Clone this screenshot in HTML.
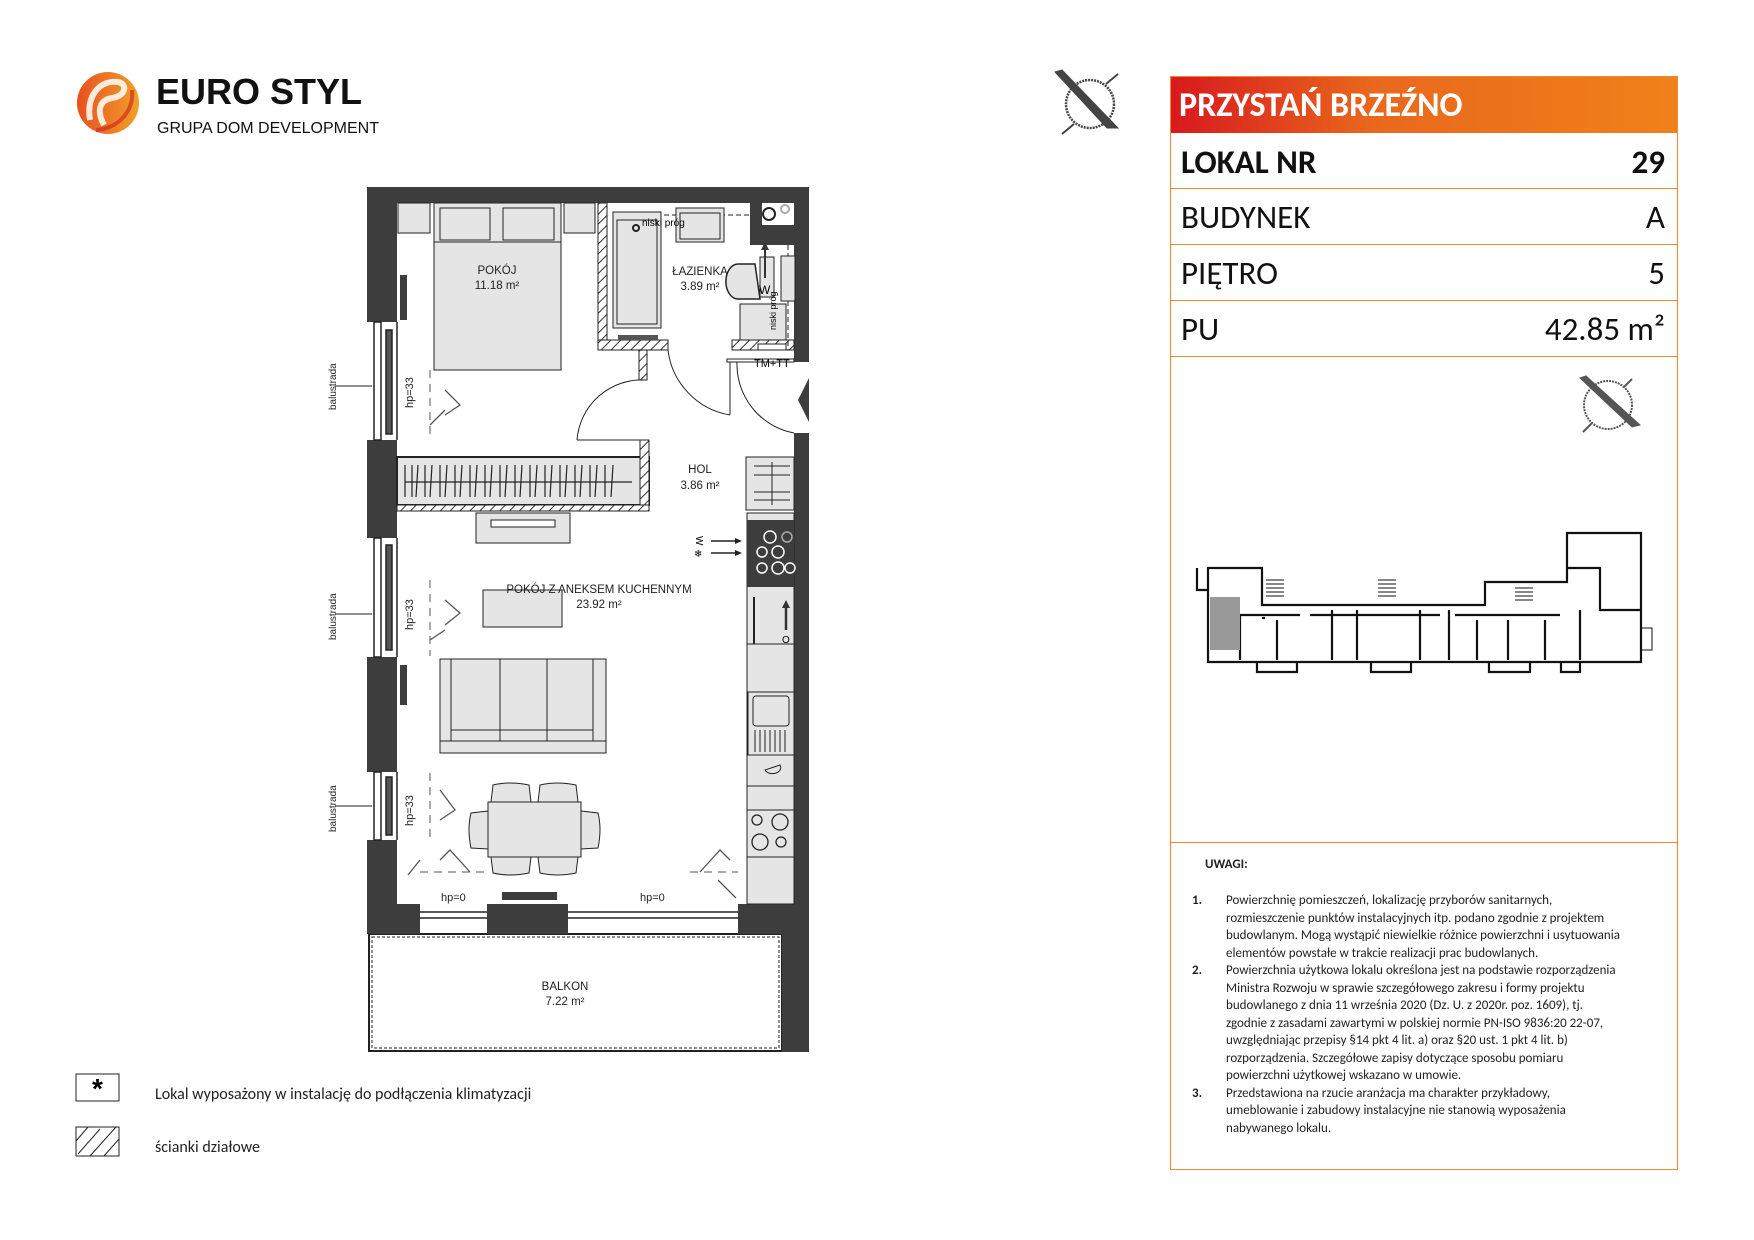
<!DOCTYPE html>
<html><head><meta charset="utf-8"><style>
html,body{margin:0;padding:0;background:#fff}
body{width:1754px;height:1240px;position:relative;overflow:hidden;font-family:"Liberation Sans",sans-serif}
.c{font-family:"Carlito","Liberation Sans","DejaVu Sans",sans-serif}
#panel{position:absolute;left:1170px;top:76px;width:506px;height:1092px;border:1px solid #ee8a2e}
.row{position:absolute;left:0;width:506px;border-bottom:1px solid #ee8a2e;font-size:33px;color:#111}
.row .l{position:absolute;left:10px}
.row .r{position:absolute;right:12px}
.notes{position:absolute;font-size:13px;line-height:17.5px;color:#222}
</style></head><body>
<svg width="1754" height="1240" viewBox="0 0 1754 1240" style="position:absolute;left:0;top:0">
<defs>
<linearGradient id="lg" x1="0" x2="1"><stop offset="0" stop-color="#e8501f"/><stop offset="1" stop-color="#f2a02a"/></linearGradient>
<linearGradient id="hg" x1="0" x2="1"><stop offset="0" stop-color="#d8181e"/><stop offset="0.4" stop-color="#e9681d"/><stop offset="1" stop-color="#f08119"/></linearGradient>
<pattern id="hat" width="7" height="7" patternUnits="userSpaceOnUse" patternTransform="rotate(45)"><rect width="7" height="7" fill="#fff"/><line x1="0" y1="0" x2="0" y2="7" stroke="#333" stroke-width="2"/></pattern>
</defs>
<!-- logo -->
<circle cx="108" cy="103" r="31" fill="url(#lg)"/>
<path d="M90 120 C86 95 100 80 118 82 C128 84 126 96 112 98 C100 100 96 110 104 125" fill="none" stroke="#fff" stroke-width="6" opacity="0.85"/>
<path d="M96 130 C120 128 134 110 132 90" fill="none" stroke="#c9201c" stroke-width="4" opacity="0.6"/>
<text x="156" y="104" font-family="Liberation Sans" font-weight="bold" font-size="36" fill="#111" letter-spacing="0">EURO STYL</text>
<text x="157" y="133" font-family="Liberation Sans" font-size="16" fill="#111">GRUPA DOM DEVELOPMENT</text>
<!-- big compass -->
<g stroke="#444" fill="none">
<circle cx="1090" cy="104" r="24" stroke-width="2.5" stroke-dasharray="2 1"/>
<line x1="1074" y1="124" x2="1062" y2="134" stroke-width="2"/><line x1="1106" y1="84" x2="1118" y2="74" stroke-width="2"/>
<polygon points="1055,72 1062,70 1118,128 1107,128" fill="#444"/>
</g>
<!-- plan -->
<g>
<rect x="369" y="934" width="413" height="117" fill="#fff" stroke="#222" stroke-width="2"/>
<rect x="372" y="937" width="407" height="111" fill="none" stroke="#222" stroke-width="1" stroke-dasharray="3 2"/>
<rect x="782" y="904" width="27" height="148" fill="#3d3d3d"/>
<rect x="367" y="187" width="442" height="16" fill="#3d3d3d"/>
<rect x="367" y="187" width="30" height="135" fill="#3d3d3d"/>
<rect x="367" y="440" width="30" height="98" fill="#3d3d3d"/>
<rect x="367" y="657" width="30" height="115" fill="#3d3d3d"/>
<rect x="367" y="840" width="30" height="94" fill="#3d3d3d"/>
<rect x="794" y="187" width="15" height="175" fill="#3d3d3d"/>
<rect x="794" y="433" width="15" height="480" fill="#3d3d3d"/>
<polygon points="809,378 798,400 809,422" fill="#3d3d3d"/>
<rect x="367" y="904" width="53" height="30" fill="#3d3d3d"/>
<rect x="487" y="904" width="81" height="30" fill="#3d3d3d"/>
<rect x="738" y="904" width="71" height="30" fill="#3d3d3d"/>
<rect x="502" y="892" width="55" height="8" fill="#3d3d3d"/>
<g fill="none" stroke="#222" stroke-width="1.5">
<rect x="374" y="322" width="7" height="118"/><rect x="386" y="330" width="6" height="104" fill="#555"/><line x1="397" y1="322" x2="397" y2="440"/>
<rect x="374" y="538" width="7" height="119"/><rect x="386" y="545" width="6" height="105" fill="#555"/><line x1="397" y1="538" x2="397" y2="657"/>
<rect x="374" y="772" width="7" height="68"/><rect x="386" y="777" width="6" height="58" fill="#555"/><line x1="397" y1="772" x2="397" y2="840"/>
<line x1="420" y1="912" x2="487" y2="912"/><line x1="420" y1="918" x2="487" y2="918"/>
<line x1="568" y1="912" x2="738" y2="912"/><line x1="568" y1="918" x2="738" y2="918"/>
</g>
<g stroke="#222" stroke-width="1">
<line x1="335" y1="386" x2="372" y2="386"/><line x1="335" y1="614" x2="372" y2="614"/><line x1="335" y1="806" x2="372" y2="806"/>
</g>
<g font-size="10" fill="#222">
<text transform="translate(336,410) rotate(-90)">balustrada</text>
<text transform="translate(336,640) rotate(-90)">balustrada</text>
<text transform="translate(336,832) rotate(-90)">balustrada</text>
<text transform="translate(413,408) rotate(-90)" font-size="11">hp=33</text>
<text transform="translate(413,630) rotate(-90)" font-size="11">hp=33</text>
<text transform="translate(413,826) rotate(-90)" font-size="11">hp=33</text>
<text x="441" y="901" font-size="11">hp=0</text>
<text x="640" y="901" font-size="11">hp=0</text>
</g>
<g fill="none" stroke="#555" stroke-width="1" stroke-dasharray="8 6">
<line x1="430" y1="370" x2="430" y2="440"/><line x1="430" y1="580" x2="430" y2="656"/><line x1="430" y1="773" x2="430" y2="840"/>
<line x1="420" y1="872" x2="487" y2="872"/><line x1="690" y1="872" x2="738" y2="872"/>
</g>
<g fill="none" stroke="#555" stroke-width="1.3">
<path d="M445 390 L460 405 L445 415"/><path d="M430 425 L445 410"/><path d="M445 600 L460 613 L445 625"/><path d="M430 640 L445 630"/>
<path d="M440 790 L455 810 L440 820"/><path d="M440 860 L450 850 L470 872"/><path d="M700 872 L720 850 L730 860"/>
<path d="M408 875 L420 860"/><path d="M718 880 L736 898"/>
</g>
<rect x="598" y="203" width="9" height="147" fill="url(#hat)" stroke="#222"/>
<rect x="598" y="340" width="70" height="10" fill="url(#hat)" stroke="#222"/>
<rect x="639" y="350" width="8" height="30" fill="url(#hat)" stroke="#222"/>
<rect x="732" y="340" width="62" height="10" fill="url(#hat)" stroke="#222"/>
<rect x="750" y="203" width="44" height="42" fill="#3d3d3d"/><rect x="762" y="203" width="32" height="22" fill="#fff"/>
<circle cx="769" cy="214" r="6" fill="none" stroke="#222" stroke-width="2"/><circle cx="785" cy="209" r="4" fill="none" stroke="#aaa" stroke-width="2"/>
<line x1="640" y1="215" x2="750" y2="215" stroke="#222" stroke-dasharray="5 3"/>
<line x1="788" y1="245" x2="788" y2="350" stroke="#222" stroke-dasharray="5 3"/>
<rect x="613" y="212" width="48" height="116" fill="#e5e5e5" stroke="#222"/><rect x="617" y="220" width="40" height="104" fill="none" stroke="#222"/>
<circle cx="636" cy="228" r="3" fill="none" stroke="#222" stroke-width="2"/>
<rect x="618" y="335" width="40" height="5" fill="#555"/>
<rect x="676" y="208" width="48" height="34" fill="#e5e5e5" stroke="#222"/><rect x="680" y="213" width="40" height="26" fill="none" stroke="#222"/>
<path d="M755 264 L738 264 A9 13 0 0 0 738 299 L760 299 Z" fill="#e5e5e5" stroke="#222" stroke-width="1.5"/>
<rect x="760" y="257" width="14" height="40" fill="#e5e5e5" stroke="#222"/><rect x="781" y="256" width="14" height="45" fill="#e5e5e5" stroke="#222"/>
<line x1="765" y1="278" x2="765" y2="248" stroke="#333" stroke-width="2"/><polygon points="761,250 769,250 765,242" fill="#333"/>
<text x="759" y="294" font-size="12">W</text>
<rect x="740" y="304" width="46" height="36" fill="#e5e5e5" stroke="#222"/>
<rect x="758" y="344" width="28" height="6" fill="#fff" stroke="#222"/>
<text x="642" y="226" font-size="10">niski próg</text>
<text transform="translate(776,330) rotate(-90)" font-size="9">niski próg</text>
<text x="754" y="367" font-size="11">TM+TT</text>
<rect x="727" y="359" width="67" height="3" fill="none" stroke="#222"/>
<g fill="none" stroke="#222" stroke-width="1">
<path d="M668 350 A75 75 0 0 0 730 415"/><line x1="730" y1="362" x2="730" y2="415"/>
<path d="M737 362 A70 70 0 0 0 794 433"/>
<path d="M645 380 A65 65 0 0 0 577 440"/><line x1="577" y1="440" x2="645" y2="440"/>
</g>
<rect x="397" y="457" width="252" height="48" fill="#e5e5e5" stroke="#222" stroke-width="2"/>
<rect x="640" y="440" width="9" height="65" fill="url(#hat)" stroke="#222"/>
<rect x="397" y="505" width="252" height="6" fill="url(#hat)" stroke="#222"/>
<g stroke="#222" stroke-width="1.2">
<line x1="405" y1="482" x2="632" y2="482"/>
<path d="M405 465v32M412 465v32M418 465l-2 32M425 465v32M432 465l-2 32M440 465v32M447 465l-2 32M455 465v32M462 465l-2 32M470 465v32M477 465l-2 32M485 465v32M492 465l-2 32M500 465v32M507 465l-2 32M515 465v32M522 465l-2 32M530 465v32M537 465l-2 32M545 465v32M552 465l-2 32M560 465v32M567 465l-2 32M575 465v32M582 465l-2 32M590 465v32M597 465l-2 32M605 465v32M613 465l-2 32"/>
</g>
<rect x="398" y="203" width="32" height="30" fill="#e5e5e5" stroke="#222"/><rect x="564" y="203" width="31" height="30" fill="#e5e5e5" stroke="#222"/>
<rect x="434" y="203" width="127" height="167" fill="#e5e5e5" stroke="#222"/>
<rect x="440" y="208" width="50" height="32" fill="#e5e5e5" stroke="#222"/><rect x="503" y="208" width="51" height="32" fill="#e5e5e5" stroke="#222"/>
<line x1="434" y1="242" x2="561" y2="242" stroke="#222"/>
<rect x="400" y="275" width="7" height="45" fill="#3d3d3d"/>
<rect x="400" y="665" width="7" height="40" fill="#3d3d3d"/>
<rect x="746" y="457" width="48" height="53" fill="#e5e5e5" stroke="#222"/>
<g stroke="#222"><line x1="754" y1="466" x2="790" y2="466"/><line x1="754" y1="475" x2="790" y2="475"/><line x1="754" y1="492" x2="790" y2="492"/><line x1="754" y1="500" x2="790" y2="500"/><line x1="772" y1="462" x2="772" y2="505"/></g>
<rect x="747" y="513" width="47" height="391" fill="#e5e5e5" stroke="#222"/>
<rect x="747" y="520" width="47" height="67" fill="#3d3d3d"/>
<g fill="none" stroke="#fff" stroke-width="1.5"><circle cx="770" cy="537" r="6"/><circle cx="787" cy="537" r="5" stroke="#aaa"/><circle cx="762" cy="552" r="5"/><circle cx="778" cy="552" r="6"/><circle cx="762" cy="568" r="5"/><circle cx="778" cy="568" r="6"/><circle cx="790" cy="568" r="5"/></g>
<line x1="754" y1="597" x2="754" y2="644" stroke="#222" stroke-width="2"/>
<line x1="747" y1="644" x2="794" y2="644" stroke="#222"/>
<line x1="786" y1="630" x2="786" y2="605" stroke="#333" stroke-width="2.5"/><polygon points="782,608 790,608 786,600" fill="#333"/>
<text x="782" y="643" font-size="10">O</text>
<rect x="748" y="692" width="46" height="63" fill="none" stroke="#222"/><rect x="753" y="696" width="36" height="30" rx="3" fill="none" stroke="#222"/>
<g stroke="#222"><path d="M755 730v22M760 730v22M765 730v22M770 730v22M775 730v22M780 730v22M785 730v22"/></g>
<path d="M765 770 a8 6 0 1 0 15 -5 z" fill="none" stroke="#222"/>
<line x1="747" y1="786" x2="794" y2="786" stroke="#222"/><line x1="747" y1="810" x2="794" y2="810" stroke="#222"/><line x1="747" y1="857" x2="794" y2="857" stroke="#222"/>
<g fill="none" stroke="#222" stroke-width="1.3"><circle cx="757" cy="820" r="5"/><circle cx="780" cy="822" r="8"/><circle cx="760" cy="842" r="8"/><circle cx="781" cy="842" r="5"/></g>
<g stroke="#222" stroke-width="1.5"><line x1="711" y1="541" x2="735" y2="541"/><line x1="711" y1="553" x2="735" y2="553"/></g>
<polygon points="735,538 742,541 735,544" fill="#222"/><polygon points="735,550 742,553 735,556" fill="#222"/>
<text transform="translate(696,536) rotate(90)" font-size="10">W</text>
<text x="694" y="557" font-size="10">❄</text>
<rect x="476" y="513" width="94" height="30" fill="#e5e5e5" stroke="#222"/><rect x="491" y="520" width="64" height="7" fill="#fff" stroke="#222"/>
<rect x="483" y="590" width="79" height="37" fill="#e5e5e5" stroke="#222"/>
<rect x="440" y="659" width="166" height="94" fill="#e5e5e5" stroke="#222"/>
<g stroke="#222" fill="none"><line x1="451" y1="659" x2="451" y2="741"/><line x1="500" y1="659" x2="500" y2="741"/><line x1="547" y1="659" x2="547" y2="741"/><line x1="593" y1="659" x2="593" y2="741"/><line x1="451" y1="730" x2="593" y2="730"/><line x1="440" y1="741" x2="606" y2="741"/></g>
<g fill="#e5e5e5" stroke="#222">
<path d="M491 802 L493 785 Q510 781 529 785 L531 802 Z"/><path d="M538 802 L540 785 Q557 781 576 785 L578 802 Z"/>
<path d="M491 857 L493 873 Q510 877 529 873 L531 857 Z"/><path d="M538 857 L540 873 Q557 877 576 873 L578 857 Z"/>
<path d="M488 811 L471 813 Q467 829 471 848 L488 849 Z"/><path d="M581 811 L598 813 Q602 829 598 848 L581 849 Z"/>
<rect x="488" y="802" width="93" height="55"/>
</g>
<g font-size="11.5" fill="#222" text-anchor="middle">
<text x="497" y="274">POKÓJ</text><text x="497" y="289">11.18 m²</text>
<text x="700" y="275">ŁAZIENKA</text><text x="700" y="290">3.89 m²</text>
<text x="700" y="473">HOL</text><text x="700" y="489">3.86 m²</text>
<text x="599" y="593">POKÓJ Z ANEKSEM KUCHENNYM</text><text x="599" y="608">23.92 m²</text>
<text x="565" y="990">BALKON</text><text x="565" y="1005">7.22 m²</text>
</g>
</g>
<!-- legend -->
<rect x="76" y="1074" width="43" height="27" fill="#fff" stroke="#222"/>
<text x="97.5" y="1098" text-anchor="middle" font-size="28" font-weight="bold">*</text>
<rect x="76" y="1127" width="43" height="29" fill="#fff" stroke="#222"/>
<g stroke="#222"><line x1="78" y1="1154" x2="100" y2="1129"/><line x1="90" y1="1156" x2="116" y2="1127"/><line x1="104" y1="1156" x2="119" y2="1139"/><line x1="76" y1="1141" x2="88" y2="1127"/></g>
<!-- mini compass -->
<g stroke="#555" fill="none">
<circle cx="1608" cy="405" r="24" stroke-width="2" stroke-dasharray="2 1"/>
<line x1="1592" y1="423" x2="1583" y2="432" stroke-width="2"/><line x1="1624" y1="387" x2="1632" y2="379" stroke-width="2"/>
<polygon points="1580,378 1586,376 1640,425 1632,427" fill="#555"/>
</g>
<!-- mini building -->
<g fill="none" stroke="#111" stroke-width="2.2">
<path d="M1208 662 L1208 568 L1262 568 L1262 605 L1485 605 L1485 582 L1567 582 L1567 533 L1641 533 L1641 662 Z"/>
<path d="M1197 568 L1197 590 L1208 590"/>
<path d="M1262 618 L1265 618"/>
<path d="M1240 615 L1240 660 M1277 620 L1277 660 M1332 610 L1332 660 M1357 610 L1357 660 M1420 610 L1420 660 M1449 610 L1449 660 M1477 620 L1477 660 M1508 620 L1508 660 M1545 620 L1545 660 M1580 610 L1580 660"/>
<path d="M1240 615 L1300 615 M1310 615 L1440 615 M1455 615 L1560 615"/>
<path d="M1567 568 L1600 568 L1600 610 L1641 610"/>
<path d="M1257 662 L1257 672 L1297 672 L1297 662 M1371 662 L1371 672 L1411 672 L1411 662 M1489 662 L1489 672 L1530 672 L1530 662 M1561 662 L1561 672 L1580 672 L1580 662"/>
<path d="M1641 628 L1652 628 L1652 650 L1641 650" stroke-width="1"/>
</g>
<g fill="none" stroke="#111" stroke-width="1">
<path d="M1266 580h18M1266 584h18M1266 588h18M1266 592h18M1266 596h18"/>
<path d="M1378 580h18M1378 584h18M1378 588h18M1378 592h18M1378 596h18"/>
<path d="M1515 588h18M1515 592h18M1515 596h18M1515 600h18"/>
</g>
<rect x="1210" y="597" width="30" height="53" fill="#999"/>
<!-- header gradient -->
<rect x="1170" y="76" width="508" height="57" fill="url(#hg)"/>
</svg>
<div id="panel">
<div class="c" style="position:absolute;left:8px;top:0;height:57px;line-height:58px;color:#fff;font-weight:bold;font-size:34px;white-space:nowrap">PRZYSTAŃ BRZEŹNO</div>
<div class="row c" style="top:57px;height:54px;line-height:56px;font-weight:bold"><span class="l">LOKAL NR</span><span class="r">29</span></div>
<div class="row c" style="top:112px;height:55px;line-height:57px"><span class="l">BUDYNEK</span><span class="r">A</span></div>
<div class="row c" style="top:168px;height:55px;line-height:57px"><span class="l">PIĘTRO</span><span class="r">5</span></div>
<div class="row c" style="top:224px;height:55px;line-height:57px"><span class="l">PU</span><span class="r">42.85 m²</span></div>
<div style="position:absolute;left:0;top:765px;width:506px;border-top:1px solid #ee8a2e"></div>
</div>
<div class="notes c" style="left:1205px;top:856px;font-weight:bold">UWAGI:</div>
<div class="notes c" style="left:1192px;top:892px;font-weight:bold">1.</div>
<div class="notes c" style="left:1192px;top:962px;font-weight:bold">2.</div>
<div class="notes c" style="left:1192px;top:1085px;font-weight:bold">3.</div>
<div class="notes c" style="left:1226px;top:892px;width:450px;white-space:nowrap">Powierzchnię pomieszczeń, lokalizację przyborów sanitarnych,<br>rozmieszczenie punktów instalacyjnych itp. podano zgodnie z projektem<br>budowlanym. Mogą wystąpić niewielkie różnice powierzchni i usytuowania<br>elementów powstałe w trakcie realizacji prac budowlanych.<br>Powierzchnia użytkowa lokalu określona jest na podstawie rozporządzenia<br>Ministra Rozwoju w sprawie szczegółowego zakresu i formy projektu<br>budowlanego z dnia 11 września 2020 (Dz. U. z 2020r. poz. 1609), tj.<br>zgodnie z zasadami zawartymi w polskiej normie PN-ISO 9836:20 22-07,<br>uwzględniając przepisy §14 pkt 4 lit. a) oraz §20 ust. 1 pkt 4 lit. b)<br>rozporządzenia. Szczegółowe zapisy dotyczące sposobu pomiaru<br>powierzchni użytkowej wskazano w umowie.<br>Przedstawiona na rzucie aranżacja ma charakter przykładowy,<br>umeblowanie i zabudowy instalacyjne nie stanowią wyposażenia<br>nabywanego lokalu.</div>
<div class="c" style="position:absolute;left:155px;top:1085px;font-size:16px;color:#222">Lokal wyposażony w instalację do podłączenia klimatyzacji</div>
<div class="c" style="position:absolute;left:155px;top:1138px;font-size:16px;color:#222">ścianki działowe</div>
</body></html>
